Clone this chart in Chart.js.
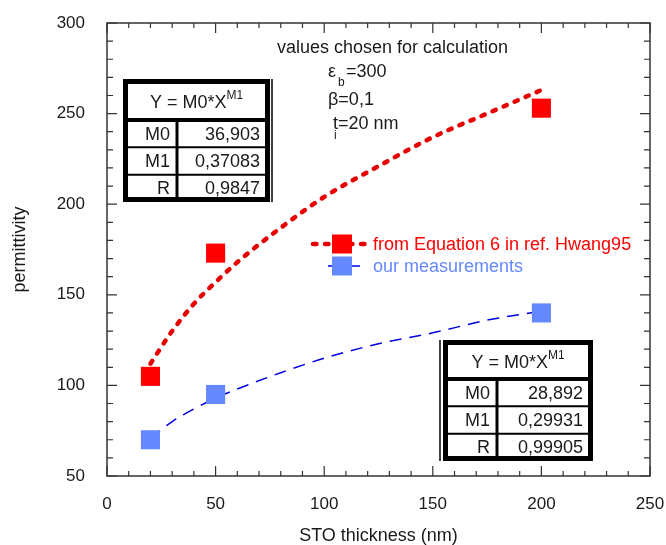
<!DOCTYPE html>
<html>
<head>
<meta charset="utf-8">
<script src="https://cdn.jsdelivr.net/npm/chart.js@4/dist/chart.umd.min.js"></script>
<style>
  html, body { margin: 0; padding: 0; background: #fff; }
  #wrap { width: 666px; height: 545px; }
</style>
</head>
<body>
<div id="wrap"><canvas id="chart" width="666" height="545"></canvas></div>
<script>
// measured points
const thickness = [20, 50, 200];
const hwangValues = [105, 173, 253];
const measuredValues = [70, 95, 140];

// fitted curves
const fitThickness = [20, 30, 40, 50, 60, 80, 100, 125, 150, 175, 200];
const hwangFit = [112, 130, 145, 157, 168, 187, 204, 221, 237, 250, 263];
const measuredFit = [71, 80, 87, 93, 98, 107, 115, 123, 129, 136, 141];

// axis ticks
const xTicks = [0, 50, 100, 150, 200, 250];
const yTicks = [50, 100, 150, 200, 250, 300];

// fit tables
const fitRows = ['M0', 'M1', 'R'];
const hwangParams = ['36,903', '0,37083', '0,9847'];
const measuredParams = ['28,892', '0,29931', '0,99905'];

const FONT = "'Liberation Sans', Arial, sans-serif";
const RED = '#ff0000';
const BLUE_MARK = '#6688ff';
const BLUE_LINE = '#0000e0';
const INK = '#1a1a1a';

function toPoints(xs, ys) {
    return xs.map((x, i) => ({ x: x, y: ys[i] }));
}

// inward ticks on all four sides plus the frame
const frameTicks = {
    id: 'frameTicks',
    afterDraw(chart) {
        const { ctx, chartArea: a, scales } = chart;
        ctx.save();
        ctx.strokeStyle = '#333';
        ctx.lineWidth = 1.5;
        ctx.strokeRect(a.left, a.top, a.right - a.left, a.bottom - a.top);
        ctx.lineWidth = 1.2;
        ctx.beginPath();
        for (let v = 0; v <= 250; v += 10) {
            const px = scales.x.getPixelForValue(v);
            const len = v % 50 === 0 ? 10 : 5;
            ctx.moveTo(px, a.bottom); ctx.lineTo(px, a.bottom - len);
            ctx.moveTo(px, a.top); ctx.lineTo(px, a.top + len);
        }
        for (let v = 50; v <= 300; v += 10) {
            const py = scales.y.getPixelForValue(v);
            const len = v % 50 === 0 ? 10 : 6;
            ctx.moveTo(a.left, py); ctx.lineTo(a.left + len, py);
            ctx.moveTo(a.right, py); ctx.lineTo(a.right - len, py);
        }
        ctx.stroke();
        ctx.restore();
    }
};

function drawTable(ctx, t, values) {
    const rowH = (t.h - t.headH) / 3;
    ctx.save();
    ctx.fillStyle = '#fff';
    ctx.fillRect(t.x, t.y, t.w, t.h);
    ctx.strokeStyle = '#000';
    // outer border
    ctx.lineWidth = 5;
    ctx.strokeRect(t.x + 2.5, t.y + 2.5, t.w - 5, t.h - 5);
    // header separator
    ctx.lineWidth = 4;
    ctx.beginPath();
    ctx.moveTo(t.x, t.y + t.headH); ctx.lineTo(t.x + t.w, t.y + t.headH);
    ctx.stroke();
    // column divider
    ctx.lineWidth = 3;
    ctx.beginPath();
    ctx.moveTo(t.colX, t.y + t.headH); ctx.lineTo(t.colX, t.y + t.h);
    ctx.stroke();
    // row lines
    ctx.lineWidth = 2;
    ctx.beginPath();
    for (let i = 1; i < 3; i++) {
        const y = t.y + t.headH + rowH * i;
        ctx.moveTo(t.x, y); ctx.lineTo(t.x + t.w, y);
    }
    ctx.stroke();
    // thin double line
    ctx.lineWidth = 1.5;
    ctx.beginPath();
    ctx.moveTo(t.dblX, t.y); ctx.lineTo(t.dblX, t.y + t.h);
    ctx.stroke();

    // header Y = M0*X^M1
    ctx.fillStyle = INK;
    ctx.textBaseline = 'middle';
    ctx.font = '18px ' + FONT;
    const main = 'Y = M0*X';
    ctx.font = '12px ' + FONT;
    const supW = ctx.measureText('M1').width;
    ctx.font = '18px ' + FONT;
    const mainW = ctx.measureText(main).width;
    const hx = t.x + t.w / 2 - (mainW + supW) / 2;
    const hy = t.y + t.headH / 2 + 4;
    ctx.textAlign = 'left';
    ctx.fillText(main, hx, hy);
    ctx.font = '12px ' + FONT;
    ctx.fillText('M1', hx + mainW, hy - 8);

    // body
    ctx.font = '18px ' + FONT;
    ctx.textAlign = 'right';
    for (let i = 0; i < 3; i++) {
        const cy = t.y + t.headH + rowH * (i + 0.5) + 1;
        ctx.fillText(fitRows[i], t.colX - 7, cy);
        ctx.fillText(values[i], t.x + t.w - 10, cy);
    }
    ctx.restore();
}

const annotations = {
    id: 'annotations',
    afterDraw(chart) {
        const { ctx } = chart;
        const ds = chart.data.datasets;
        ctx.save();

        // notes
        ctx.fillStyle = INK;
        ctx.textBaseline = 'middle';
        ctx.textAlign = 'left';
        ctx.font = '18px ' + FONT;
        ctx.fillText('values chosen for calculation', 277, 48);
        ctx.fillText('\u03b5', 328, 72);
        ctx.fillText('=300', 346, 72);
        ctx.fillText('\u03b2=0,1', 328, 100);
        ctx.fillText('t=20 nm', 333, 124);
        ctx.font = '12px ' + FONT;
        ctx.fillText('b', 338, 83);
        ctx.fillText('i', 334, 136);

        // legend
        const items = [
            { line: ds[0], mark: ds[1], text: 'from Equation 6 in ref. Hwang95', color: RED, y: 244, x0: 313, x1: 368 },
            { line: ds[2], mark: ds[3], text: 'our measurements', color: BLUE_MARK, y: 266, x0: 328, x1: 364 }
        ];
        items.forEach(it => {
            ctx.save();
            ctx.strokeStyle = it.line.borderColor;
            ctx.lineWidth = it.line.borderWidth;
            ctx.lineCap = it.line.borderCapStyle || 'butt';
            ctx.setLineDash(it.line.borderDash || []);
            ctx.beginPath();
            ctx.moveTo(it.x0, it.y); ctx.lineTo(it.x1, it.y);
            ctx.stroke();
            ctx.restore();
            ctx.fillStyle = it.mark.backgroundColor;
            ctx.fillRect(332, it.y - 9.5, 20, 19);
            ctx.fillStyle = it.color;
            ctx.font = '18px ' + FONT;
            ctx.textAlign = 'left';
            ctx.fillText(it.text, 373, it.y + 1);
        });

        // fit tables
        drawTable(ctx, { x: 123, y: 79, w: 147, h: 123, headH: 41, colX: 177, dblX: 272 }, hwangParams);
        drawTable(ctx, { x: 443, y: 340, w: 150, h: 121, headH: 39, colX: 497, dblX: 440 }, measuredParams);

        ctx.restore();
    }
};

const ctx = document.getElementById('chart').getContext('2d');
new Chart(ctx, {
    type: 'scatter',
    data: {
        datasets: [
            {
                type: 'line',
                label: 'Hwang95 fit',
                data: toPoints(fitThickness, hwangFit),
                borderColor: '#e60000',
                borderWidth: 4.5,
                borderDash: [3.5, 8.5],
                borderCapStyle: 'round',
                cubicInterpolationMode: 'monotone',
                pointRadius: 0,
                fill: false,
                order: 2
            },
            {
                label: 'from Equation 6 in ref. Hwang95',
                data: toPoints(thickness, hwangValues),
                backgroundColor: RED,
                borderWidth: 0,
                pointStyle: 'rect',
                pointRadius: 13.5,
                order: 1
            },
            {
                type: 'line',
                label: 'measurement fit',
                data: toPoints(fitThickness, measuredFit),
                borderColor: BLUE_LINE,
                borderWidth: 1.5,
                borderDash: [12, 8],
                cubicInterpolationMode: 'monotone',
                pointRadius: 0,
                fill: false,
                order: 2
            },
            {
                label: 'our measurements',
                data: toPoints(thickness, measuredValues),
                backgroundColor: BLUE_MARK,
                borderWidth: 0,
                pointStyle: 'rect',
                pointRadius: 13.5,
                order: 1
            }
        ]
    },
    options: {
        responsive: false,
        animation: false,
        devicePixelRatio: 1,
        layout: { padding: { top: 23, right: 16, left: 0, bottom: 0 } },
        plugins: {
            legend: { display: false },
            tooltip: { enabled: false }
        },
        scales: {
            x: {
                type: 'linear',
                min: 0,
                max: 250,
                afterFit: s => { s.height = 69; s.paddingLeft = 0; s.paddingRight = 0; },
                afterBuildTicks: s => { s.ticks = xTicks.map(v => ({ value: v })); },
                grid: { display: false },
                border: { display: false },
                ticks: { color: INK, padding: 10, font: { family: FONT, size: 17 } },
                title: {
                    display: true,
                    text: 'STO thickness (nm)',
                    color: INK,
                    padding: { top: 0, bottom: 0 },
                    font: { family: FONT, size: 18, lineHeight: 1 }
                }
            },
            y: {
                type: 'linear',
                min: 50,
                max: 300,
                afterFit: s => { s.width = 107; s.paddingTop = 0; s.paddingBottom = 0; },
                afterBuildTicks: s => { s.ticks = yTicks.map(v => ({ value: v })); },
                grid: { display: false },
                border: { display: false },
                ticks: { color: INK, padding: 14, font: { family: FONT, size: 17 } },
                title: {
                    display: true,
                    text: 'permittivity',
                    color: INK,
                    padding: { top: 11, bottom: 0 },
                    font: { family: FONT, size: 18, lineHeight: 1 }
                }
            }
        }
    },
    plugins: [frameTicks, annotations]
});
</script>
</body>
</html>
